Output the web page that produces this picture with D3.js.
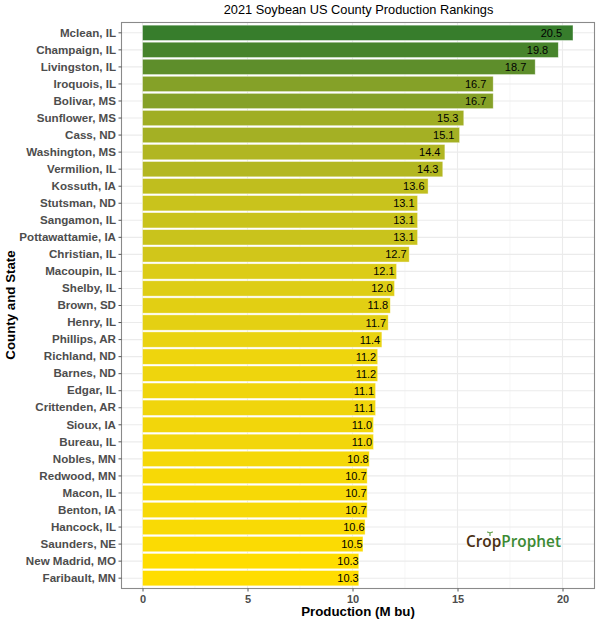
<!DOCTYPE html>
<html>
<head>
<meta charset="utf-8">
<script src="https://d3js.org/d3.v7.min.js"></script>
<style>
  body { margin: 0; background: #fff; }
  text { font-family: "Liberation Sans", Arial, sans-serif; }
</style>
</head>
<body>
<div id="container"></div>
<script>
// DATA

const counties = ['Mclean, IL', 'Champaign, IL', 'Livingston, IL', 'Iroquois, IL', 'Bolivar, MS',
  'Sunflower, MS', 'Cass, ND', 'Washington, MS', 'Vermilion, IL', 'Kossuth, IA', 'Stutsman, ND',
  'Sangamon, IL', 'Pottawattamie, IA', 'Christian, IL', 'Macoupin, IL', 'Shelby, IL', 'Brown, SD',
  'Henry, IL', 'Phillips, AR', 'Richland, ND', 'Barnes, ND', 'Edgar, IL', 'Crittenden, AR',
  'Sioux, IA', 'Bureau, IL', 'Nobles, MN', 'Redwood, MN', 'Macon, IL', 'Benton, IA', 'Hancock, IL',
  'Saunders, NE', 'New Madrid, MO', 'Faribault, MN']
const production = [20.5, 19.8, 18.7, 16.7, 16.7, 15.3, 15.1, 14.4, 14.3, 13.6, 13.1, 13.1, 13.1,
  12.7, 12.1, 12.0, 11.8, 11.7, 11.4, 11.2, 11.2, 11.1, 11.1, 11.0, 11.0, 10.8, 10.7, 10.7, 10.7,
  10.6, 10.5, 10.3, 10.3]
const xTicks = [0, 5, 10, 15, 20]
const xMinorTicks = [2.5, 7.5, 12.5, 17.5]

// SETUP VARIABLES

const width = 600
const height = 624
const margin = {top: 22.5, right: 5.5, bottom: 35.5, left: 121.5}
const panelRight = width - margin.right
const panelBottom = height - margin.bottom

const svg = d3.select('#container').append('svg')
  .attr('width', width)
  .attr('height', height)
  .style('display', 'block')

// SCALES

const x = d3.scaleLinear()
  .domain([-1, 21.5])
  .range([margin.left, margin.left + 21 * 22.5])

const y = d3.scaleBand()
  .domain(counties)
  .range([margin.top + 0.95, panelBottom - 0.95])
  .padding(0.1)

const color = d3.scaleLinear()
  .domain([10.3, 20.5])
  .range(['#ffdd00', '#377d2c'])
  .interpolate(d3.interpolateLab)

// GRID

svg.append('g').selectAll('line')
  .data(xMinorTicks)
  .join('line')
  .attr('x1', d => x(d)).attr('x2', d => x(d))
  .attr('y1', margin.top).attr('y2', panelBottom)
  .attr('stroke', '#f0f0f0').attr('stroke-width', 0.6)

svg.append('g').selectAll('line')
  .data(xTicks)
  .join('line')
  .attr('x1', d => x(d)).attr('x2', d => x(d))
  .attr('y1', margin.top).attr('y2', panelBottom)
  .attr('stroke', '#ebebeb').attr('stroke-width', 1.1)

svg.append('g').selectAll('line')
  .data(counties)
  .join('line')
  .attr('x1', margin.left).attr('x2', panelRight)
  .attr('y1', d => y(d) + y.bandwidth() / 2).attr('y2', d => y(d) + y.bandwidth() / 2)
  .attr('stroke', '#ebebeb').attr('stroke-width', 1.1)

// BARS

svg.append('g').selectAll('rect')
  .data(counties)
  .join('rect')
  .attr('x', x(0))
  .attr('y', d => y(d))
  .attr('width', (d, i) => x(production[i]) - x(0))
  .attr('height', y.bandwidth())
  .attr('fill', (d, i) => color(production[i]))
  .attr('stroke', 'rgba(255,255,255,0.6)')
  .attr('stroke-width', 0.7)

// value labels sit at 95% of the bar length
svg.append('g').selectAll('text')
  .data(counties)
  .join('text')
  .attr('x', (d, i) => x(production[i] * 0.95))
  .attr('y', d => y(d) + y.bandwidth() / 2)
  .attr('dy', '0.36em')
  .attr('text-anchor', 'middle')
  .attr('font-size', 11)
  .attr('fill', '#000')
  .text((d, i) => production[i].toFixed(1))

// PANEL BORDER

svg.append('rect')
  .attr('x', margin.left).attr('y', margin.top)
  .attr('width', panelRight - margin.left)
  .attr('height', panelBottom - margin.top)
  .attr('fill', 'none')
  .attr('stroke', '#8a8a8a')
  .attr('stroke-width', 1.1)

// AXES

const xAxis = svg.append('g')
  .attr('transform', `translate(0,${panelBottom})`)
  .call(d3.axisBottom(x).tickValues(xTicks).tickSize(3).tickPadding(4))
xAxis.select('.domain').remove()
xAxis.selectAll('.tick line').attr('stroke', '#555').attr('stroke-width', 1)
xAxis.selectAll('text').attr('font-size', 11).attr('font-weight', 'bold').attr('fill', '#4d4d4d')
  .style('font-family', '"Liberation Sans", Arial, sans-serif')

const yAxis = svg.append('g')
  .attr('transform', `translate(${margin.left},0)`)
  .call(d3.axisLeft(y).tickSize(3).tickPadding(2.5))
yAxis.select('.domain').remove()
yAxis.selectAll('.tick line').attr('stroke', '#555').attr('stroke-width', 1)
yAxis.selectAll('text').attr('font-size', 11.6).attr('font-weight', 'bold').attr('fill', '#4d4d4d')
  .style('font-family', '"Liberation Sans", Arial, sans-serif')

// TITLES

svg.append('text')
  .attr('x', (margin.left + panelRight) / 2 + 0.5)
  .attr('y', 14)
  .attr('text-anchor', 'middle')
  .attr('font-size', 12.8)
  .attr('fill', '#000')
  .text('2021 Soybean US County Production Rankings')

svg.append('text')
  .attr('x', (margin.left + panelRight) / 2)
  .attr('y', 616)
  .attr('text-anchor', 'middle')
  .attr('font-size', 13.3)
  .attr('font-weight', 'bold')
  .attr('fill', '#000')
  .text('Production (M bu)')

svg.append('text')
  .attr('transform', `translate(15,${(margin.top + panelBottom) / 2 - 0.5}) rotate(-90)`)
  .attr('text-anchor', 'middle')
  .attr('font-size', 13.3)
  .attr('font-weight', 'bold')
  .attr('fill', '#000')
  .text('County and State')

// LOGO

const logo = svg.append('text')
  .attr('x', 466)
  .attr('y', 547)
  .attr('font-size', 16.5)
  .attr('font-weight', 600)
  .attr('textLength', 95)
  .attr('lengthAdjust', 'spacingAndGlyphs')
  .style('font-family', '"Open Sans", sans-serif')
logo.append('tspan').attr('fill', '#4a2f12').text('Crop')
logo.append('tspan').attr('fill', '#3c8a33').text('Prophet')

svg.append('path')
  .attr('d', 'M490 536 L490 533 M490 533 C488 532 487 532 487 532 M490 533 C492 532 493 532 493 532')
  .attr('fill', 'none')
  .attr('stroke', '#5d9c45')
  .attr('stroke-width', 1.2)
</script>
</body>
</html>
